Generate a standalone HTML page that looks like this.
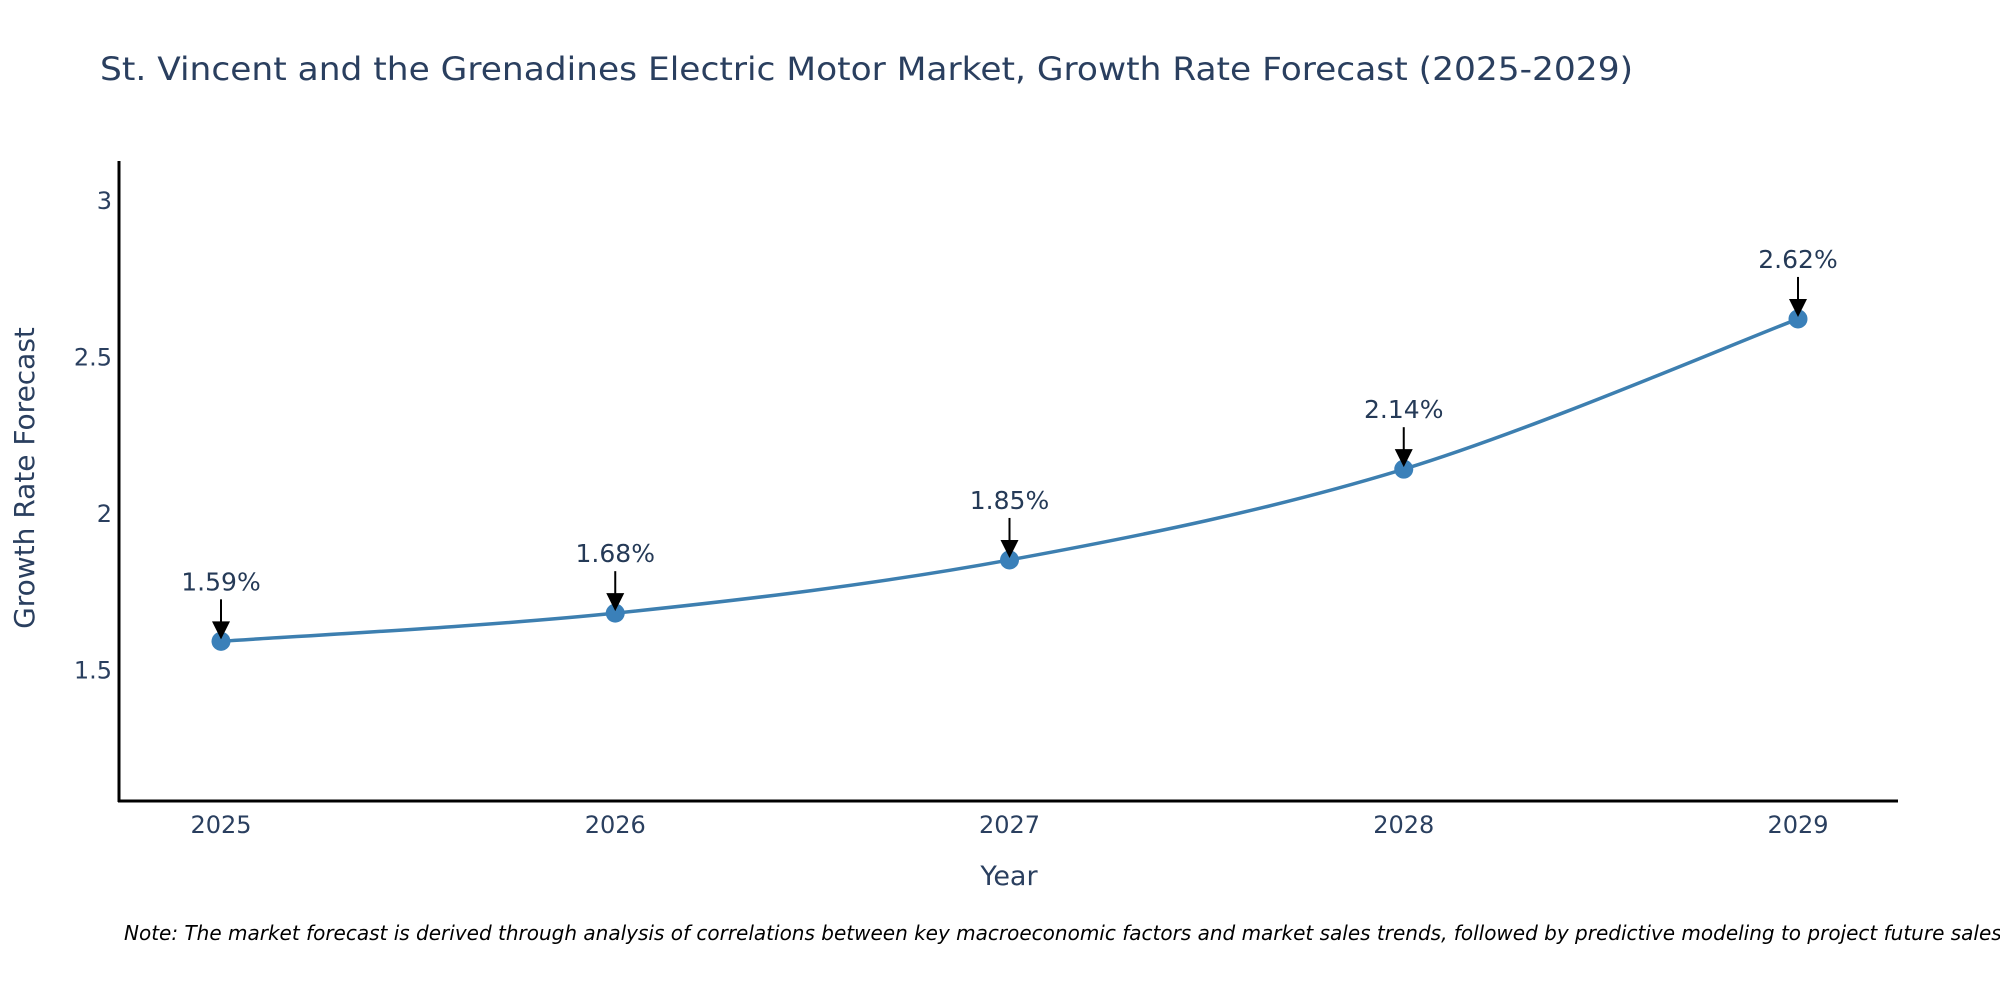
<!DOCTYPE html>
<html><head><meta charset="utf-8"><style>
html,body{margin:0;padding:0;background:#fff;overflow:hidden;}
svg{display:block;font-family:"DejaVu Sans","Liberation Sans",sans-serif;}
</style></head><body>
<svg id="chart" width="2000" height="1000" viewBox="0 0 2000 1000">
<text x="100" y="80" font-size="32" fill="#2a3f5f" textLength="1533" lengthAdjust="spacingAndGlyphs">St. Vincent and the Grenadines Electric Motor Market, Growth Rate Forecast (2025-2029)</text>
<g id="yticks"></g>
<g id="xticks"></g>
<line x1="119" y1="161" x2="119" y2="802" stroke="#000" stroke-width="3"/>
<line x1="118" y1="801" x2="1898" y2="801" stroke="#000" stroke-width="3"/>
<text transform="translate(34,478) rotate(-90)" text-anchor="middle" font-size="28" fill="#2a3f5f">Growth Rate Forecast</text>
<text x="1009" y="885" text-anchor="middle" font-size="27" fill="#2a3f5f">Year</text>
<g id="series"></g>
<text x="124" y="940" font-size="20" font-style="italic" fill="#000">Note: The market forecast is derived through analysis of correlations between key macroeconomic factors and market sales trends, followed by predictive modeling to project future sales.</text>
</svg>
<script>
const years = [2025, 2026, 2027, 2028, 2029];
const growth = [1.59, 1.68, 1.85, 2.14, 2.62];
const labels = ["1.59%", "1.68%", "1.85%", "2.14%", "2.62%"];
const yTicks = [1.5, 2, 2.5, 3];
const yTickLabels = ["1.5", "2", "2.5", "3"];

const NS = "http://www.w3.org/2000/svg";
const xs = v => 221 + (v - 2025) * 394.25;
const ys = v => 513 - (v - 2) * 313;
function mk(tag, attrs, parent) {
  const e = document.createElementNS(NS, tag);
  for (const k in attrs) e.setAttribute(k, attrs[k]);
  parent.appendChild(e);
  return e;
}
const yt = document.getElementById('yticks');
yTicks.forEach((v, i) => {
  const t = mk('text', {x: 112, y: ys(v) + 9, 'text-anchor': 'end', 'font-size': 24, fill: '#2a3f5f'}, yt);
  
  
  t.textContent = yTickLabels[i];
});
const xt = document.getElementById('xticks');
years.forEach(v => {
  const t = mk('text', {x: xs(v), y: 833, 'text-anchor': 'middle', 'font-size': 24, fill: '#2a3f5f'}, xt);
  
  
  t.textContent = String(v);
});
const g = document.getElementById('series');
const pts = years.map((y, i) => [xs(y), ys(growth[i])]);
let d = `M${pts[0][0]},${pts[0][1]}`;
for (let i = 0; i < pts.length - 1; i++) {
  const p0 = pts[Math.max(i - 1, 0)], p1 = pts[i], p2 = pts[i + 1], p3 = pts[Math.min(i + 2, pts.length - 1)];
  const t = 1 / 6;
  const c1 = [p1[0] + (p2[0] - p0[0]) * t, p1[1] + (p2[1] - p0[1]) * t];
  const c2 = [p2[0] - (p3[0] - p1[0]) * t, p2[1] - (p3[1] - p1[1]) * t];
  d += ` C${c1[0]},${c1[1]} ${c2[0]},${c2[1]} ${p2[0]},${p2[1]}`;
}
const line = mk('path', {d: d, fill: 'none', stroke: '#3d7fb0', 'stroke-width': 3.5}, g);


pts.forEach((p, i) => {
  const c = mk('circle', {cx: p[0], cy: p[1], r: 9.5, fill: '#3a80b9'}, g);
  
  
  const a = mk('line', {x1: p[0], y1: p[1] - 42, x2: p[0], y2: p[1] - 18, stroke: '#000', 'stroke-width': 2}, g);
  
  
  const h = mk('polygon', {points: `${p[0] - 9},${p[1] - 20} ${p[0] + 9},${p[1] - 20} ${p[0]},${p[1] - 2}`, fill: '#000'}, g);
  
  
  const t = mk('text', {x: p[0], y: p[1] - 51, 'text-anchor': 'middle', 'font-size': 25, fill: '#253a57'}, g);
  
  
  t.textContent = labels[i];
});
</script>
</body></html>
